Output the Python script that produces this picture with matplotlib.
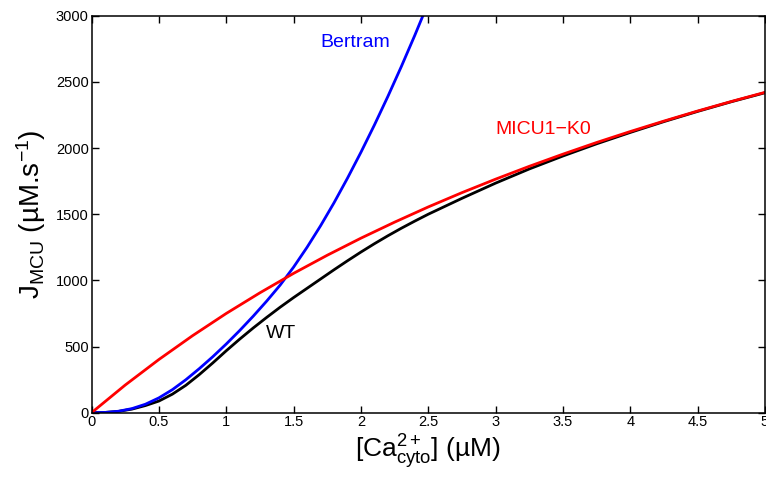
import numpy as np
import matplotlib
matplotlib.use("Agg")
import matplotlib.pyplot as plt

plt.rcParams['font.family'] = ['Liberation Sans', 'DejaVu Sans']
plt.rcParams['mathtext.fontset'] = 'custom'
plt.rcParams['mathtext.rm'] = 'Liberation Sans'
plt.rcParams['mathtext.it'] = 'Liberation Sans:italic'

# cytosolic Ca2+ (uM) and J_MCU (uM/s)
ca_wt = [0, 0.1, 0.2, 0.3, 0.4, 0.5, 0.6, 0.7, 0.8, 0.9, 1.0, 1.1, 1.2, 1.3,
         1.4, 1.5, 1.6, 1.7, 1.8, 1.9, 2.0, 2.1, 2.2, 2.3, 2.4, 2.5, 2.75,
         3, 3.25, 3.5, 3.75, 4, 4.25, 4.5, 4.75, 5]
wt = [0, 2, 10, 27, 54, 88, 140, 207, 288, 376, 468, 556, 640, 720, 797,
      870, 940, 1010, 1080, 1148, 1214, 1277, 1337, 1394, 1448, 1500, 1620,
      1735, 1842, 1940, 2032, 2118, 2200, 2277, 2350, 2418]

ca_k0 = [0, 0.25, 0.5, 0.75, 1, 1.25, 1.5, 1.75, 2, 2.25, 2.5, 2.75, 3,
         3.25, 3.5, 3.75, 4, 4.25, 4.5, 4.75, 5]
micu1_k0 = [0, 209, 402, 582, 750, 906, 1053, 1190, 1319, 1440, 1555, 1663,
            1765, 1862, 1954, 2042, 2125, 2204, 2280, 2352, 2421]

ca_bertram = [0, 0.1, 0.2, 0.3, 0.4, 0.5, 0.6, 0.7, 0.8, 0.9, 1.0, 1.1, 1.2,
              1.3, 1.4, 1.5, 1.6, 1.7, 1.8, 1.9, 2.0, 2.1, 2.2, 2.3, 2.4, 2.5]
bertram = [0, 2, 11, 31, 64, 112, 174, 249, 333, 423, 519, 621, 729, 843,
           964, 1100, 1250, 1412, 1586, 1772, 1968, 2174, 2390, 2616, 2852,
           3098]

fig = plt.figure(figsize=(7.66, 4.78), dpi=100)
ax = fig.add_axes([0.1195, 0.1366, 0.8792, 0.8305])

ax.plot(ca_wt, wt, color='black', lw=2)
ax.plot(ca_bertram, bertram, color='blue', lw=2)
ax.plot(ca_k0, micu1_k0, color='red', lw=2)

ax.text(1.696, 2794, 'Bertram', color='blue', fontsize=14, va='center', ha='left')
ax.text(2.996, 2137, 'MICU1\u2212K0', color='red', fontsize=14, va='center', ha='left')
ax.text(1.295, 602, 'WT', color='black', fontsize=14, va='center', ha='left')

ax.set_xlim(0, 5)
ax.set_ylim(0, 3000)
ax.set_xticks(np.arange(0, 5.01, 0.5))
ax.set_xticklabels(['0', '0.5', '1', '1.5', '2', '2.5', '3', '3.5', '4', '4.5', '5'])
ax.set_yticks(np.arange(0, 3001, 500))
ax.tick_params(direction='in', top=True, right=True, length=5, width=1,
               labelsize=10.5, pad=2)
for s in ax.spines.values():
    s.set_linewidth(1.1)

ax.set_xlabel(r'[Ca$^{\mathregular{2+}}_{\mathregular{cyto}}$] (µM)', fontsize=19)
ax.set_ylabel(r'J$_{\mathregular{MCU}}$ (µM.s$^{\mathregular{-1}}$)', fontsize=20)
ax.xaxis.set_label_coords(0.5, -0.05)
ax.yaxis.set_label_coords(-0.065, 0.5)

fig.savefig('out.png', dpi=100)
